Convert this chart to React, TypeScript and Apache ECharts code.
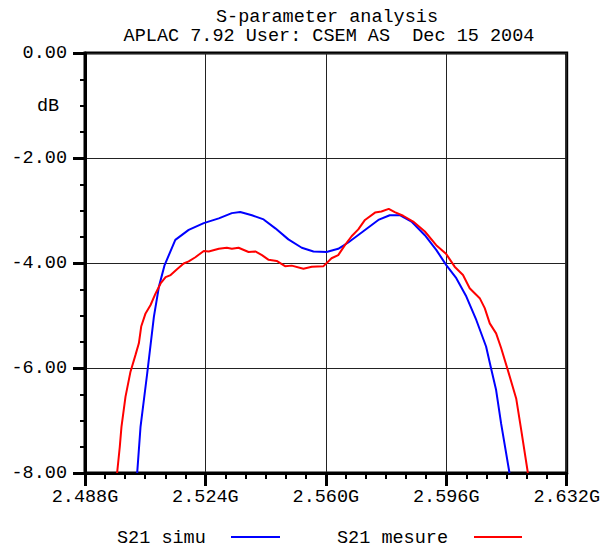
import React, { useEffect, useRef } from "react";
import * as echarts from "echarts";

const titleLines = ["S-parameter analysis", "APLAC 7.92 User: CSEM AS  Dec 15 2004"];
const seriesNames = ["S21 simu", "S21 mesure"];
const xStartGHz = 2.488;
const xEndGHz = 2.632;
const xStepGHz = 0.036;

const simuFreqGHz = [2.5036, 2.5046, 2.5066, 2.5086, 2.5101, 2.5118, 2.515, 2.519, 2.5235, 2.528, 2.5319, 2.5344, 2.5379, 2.5414, 2.5449, 2.5488, 2.5528, 2.5563, 2.5602, 2.5637, 2.5667, 2.5707, 2.5757, 2.5791, 2.5821, 2.5856, 2.5896, 2.593, 2.596, 2.599, 2.602, 2.605, 2.6079, 2.6094, 2.6109, 2.6124, 2.6149];
const simuDb = [-8.0, -7.12, -6.1, -5.02, -4.45, -4.04, -3.56, -3.37, -3.24, -3.15, -3.05, -3.03, -3.09, -3.17, -3.34, -3.55, -3.71, -3.78, -3.79, -3.73, -3.61, -3.42, -3.18, -3.09, -3.09, -3.21, -3.47, -3.75, -4.04, -4.29, -4.64, -5.09, -5.59, -6.01, -6.42, -7.06, -8.0];

const mesureFreqGHz = [2.4976, 2.4984, 2.4989, 2.5001, 2.5016, 2.5031, 2.5041, 2.5048, 2.5061, 2.5076, 2.5091, 2.5106, 2.5121, 2.5136, 2.5155, 2.5175, 2.519, 2.521, 2.5235, 2.525, 2.528, 2.5304, 2.5319, 2.5339, 2.5369, 2.5389, 2.5409, 2.5429, 2.5453, 2.5478, 2.5498, 2.5533, 2.5558, 2.5593, 2.5617, 2.5637, 2.5657, 2.5677, 2.5697, 2.5717, 2.5747, 2.5766, 2.5788, 2.5806, 2.5831, 2.5861, 2.5896, 2.593, 2.596, 2.5985, 2.601, 2.603, 2.606, 2.6075, 2.609, 2.6109, 2.6124, 2.6144, 2.6169, 2.6184, 2.6204];
const mesureDb = [-8.0, -7.5, -7.12, -6.55, -6.07, -5.75, -5.53, -5.21, -4.96, -4.8, -4.58, -4.39, -4.27, -4.23, -4.12, -4.01, -3.97, -3.89, -3.77, -3.78, -3.73, -3.71, -3.73, -3.71, -3.79, -3.78, -3.85, -3.94, -3.96, -4.06, -4.05, -4.11, -4.07, -4.06, -3.91, -3.85, -3.66, -3.49, -3.36, -3.18, -3.04, -3.02, -2.97, -3.03, -3.1, -3.21, -3.4, -3.66, -3.83, -4.07, -4.23, -4.48, -4.67, -4.86, -5.15, -5.34, -5.62, -6.04, -6.58, -7.18, -8.0];

const FONT = "'Liberation Mono', 'DejaVu Sans Mono', monospace";

const toPairs = (freqs: number[], vals: number[]) =>
  freqs.map((f, i) => [Math.round((f - xStartGHz) * 1e6) / 1000, vals[i]]);

export default function App() {
  const ref = useRef<HTMLDivElement>(null);
  useEffect(() => {
    document.body.style.margin = "0";
    if (!ref.current) return;
    const chart = echarts.init(ref.current, undefined, { renderer: "svg" });
    const span = Math.round((xEndGHz - xStartGHz) * 1000);
    const step = Math.round(xStepGHz * 1000);
    chart.setOption({
      animation: false,
      backgroundColor: "#fff",
      grid: { left: 85, right: 33, top: 53, bottom: 74, show: true, borderColor: "#000", borderWidth: 3, backgroundColor: "transparent" },
      xAxis: {
        type: "value",
        min: 0,
        max: span,
        interval: step,
        axisLine: { show: true, onZero: false, lineStyle: { color: "#000", width: 3 } },
        axisTick: { show: true, length: 13, lineStyle: { color: "#000", width: 3 } },
        minorTick: { show: true, splitNumber: 6, length: 6, lineStyle: { color: "#000", width: 2 } },
        splitLine: { show: true, lineStyle: { color: "#222", width: 1 } },
        axisLabel: {
          margin: 15,
          fontFamily: FONT,
          fontSize: 18.5,
          color: "#000",
          formatter: (v: number) => (xStartGHz + v / 1000).toFixed(3) + "G",
        },
      },
      yAxis: {
        type: "value",
        min: -8,
        max: 0,
        interval: 2,
        axisLine: { show: true, onZero: false, lineStyle: { color: "#000", width: 3 } },
        axisTick: { show: true, length: 12, lineStyle: { color: "#000", width: 3 } },
        minorTick: { show: true, splitNumber: 4, length: 5, lineStyle: { color: "#000", width: 2 } },
        splitLine: { show: true, lineStyle: { color: "#222", width: 1 } },
        axisLabel: {
          margin: 18,
          fontFamily: FONT,
          fontSize: 18.5,
          color: "#000",
          formatter: (v: number) => v.toFixed(2),
        },
      },
      series: [
        {
          name: seriesNames[0],
          type: "line",
          data: toPairs(simuFreqGHz, simuDb),
          showSymbol: false,
          symbol: "none",
          lineStyle: { color: "#0000ff", width: 2 },
          z: 3,
        },
        {
          name: seriesNames[1],
          type: "line",
          data: toPairs(mesureFreqGHz, mesureDb),
          showSymbol: false,
          symbol: "none",
          lineStyle: { color: "#ff0000", width: 2 },
          z: 4,
        },
      ],
      graphic: [
        { type: "text", x: 327, y: 17, style: { text: titleLines[0], font: `18.5px ${FONT}`, fill: "#000", textAlign: "center", textVerticalAlign: "middle" } },
        { type: "text", x: 329, y: 36, style: { text: titleLines[1], font: `18.5px ${FONT}`, fill: "#000", textAlign: "center", textVerticalAlign: "middle" } },
        { type: "text", x: 48, y: 106, style: { text: "dB", font: `18.5px ${FONT}`, fill: "#000", textAlign: "center", textVerticalAlign: "middle" } },
        { type: "text", x: 117, y: 538, style: { text: seriesNames[0], font: `18.5px ${FONT}`, fill: "#000", textAlign: "left", textVerticalAlign: "middle" } },
        { type: "line", shape: { x1: 231, y1: 537, x2: 280, y2: 537 }, style: { stroke: "#0000ff", lineWidth: 2 } },
        { type: "text", x: 337, y: 538, style: { text: seriesNames[1], font: `18.5px ${FONT}`, fill: "#000", textAlign: "left", textVerticalAlign: "middle" } },
        { type: "line", shape: { x1: 474, y1: 537, x2: 522, y2: 537 }, style: { stroke: "#ff0000", lineWidth: 2 } },
      ],
    });
    return () => chart.dispose();
  }, []);
  return <div ref={ref} style={{ width: 603, height: 547 }} />;
}
